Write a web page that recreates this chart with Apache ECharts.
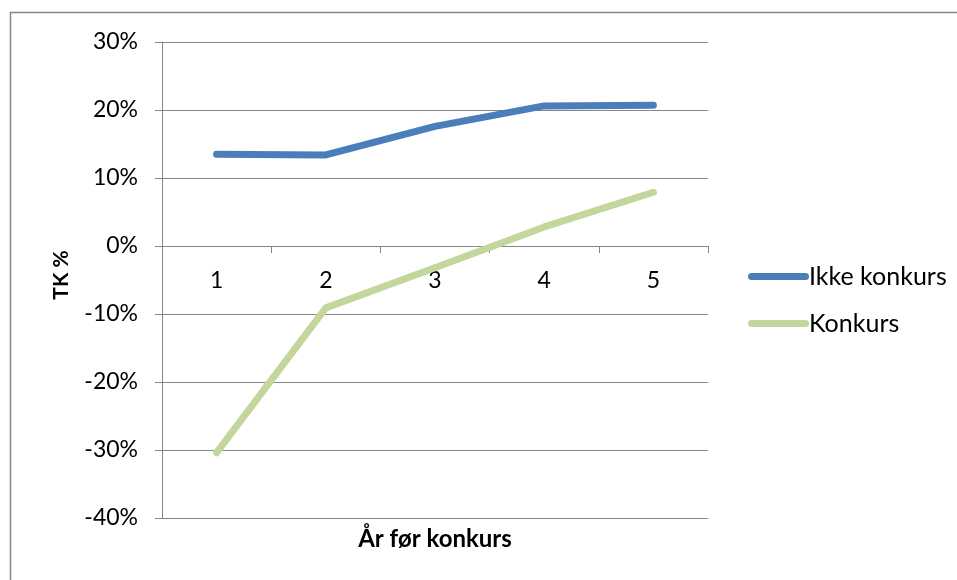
<!DOCTYPE html>
<html>
<head>
<meta charset="utf-8">
<script src="https://cdn.jsdelivr.net/npm/echarts@6/dist/echarts.min.js"></script>
<style>
  html, body { margin: 0; padding: 0; background: #ffffff; }
  #chart { width: 957px; height: 580px; }
</style>
</head>
<body>
<div id="chart"></div>
<script>
// Years before bankruptcy
const categories = ['1', '2', '3', '4', '5'];
// Equity ratio (TK %) per year, in percent
const ikkeKonkurs = [13.5, 13.4, 17.6, 20.6, 20.7];
const konkurs = [-30.4, -9.1, -3.2, 2.8, 7.9];
// Value axis range and step
const yMin = -40, yMax = 30, yStep = 10;

const FONT = 'Lato';
const GRAY = '#868686';

// Plot area
const W = 957, H = 580;
const GRID = { left: 162, right: 249, top: 42, bottom: 62 };
const plotH = H - GRID.top - GRID.bottom;
// Lift the category axis from the bottom edge up to the 0 % line
const zeroOffset = -plotH * (0 - yMin) / (yMax - yMin);

const chart = echarts.init(document.getElementById('chart'));

chart.setOption({
  backgroundColor: '#ffffff',
  animation: false,
  textStyle: { fontFamily: FONT, color: '#000' },
  grid: Object.assign({ containLabel: false }, GRID),
  legend: {
    orient: 'vertical',
    left: 743,
    top: 259,
    itemWidth: 61,
    itemHeight: 7,
    itemGap: 22,
    icon: 'path://M3.5,0 H57.5 A3.5,3.5 0 0 1 57.5,7 H3.5 A3.5,3.5 0 0 1 3.5,0 Z',
    textStyle: { fontFamily: FONT, fontSize: 25, color: '#000', padding: [0, 0, 0, -5] },
    data: ['Ikke konkurs', 'Konkurs']
  },
  xAxis: {
    type: 'category',
    data: categories,
    boundaryGap: true,
    position: 'bottom',
    offset: zeroOffset,
    axisLine: { onZero: false, lineStyle: { color: GRAY, width: 1 } },
    axisTick: { show: true, inside: false, length: 7, alignWithLabel: false, lineStyle: { color: GRAY } },
    axisLabel: { margin: 23, fontSize: 23, color: '#000', fontFamily: FONT },
    splitLine: { show: false }
  },
  yAxis: {
    type: 'value',
    min: yMin,
    max: yMax,
    interval: yStep,
    axisLine: { show: true, lineStyle: { color: GRAY, width: 1 } },
    axisTick: { show: true, inside: false, length: 7, lineStyle: { color: GRAY } },
    axisLabel: { margin: 24, fontSize: 23, color: '#000', fontFamily: FONT,
      formatter: v => v + '%' },
    splitLine: { show: true, lineStyle: { color: GRAY, width: 1 } }
  },
  series: [
    {
      name: 'Ikke konkurs',
      type: 'line',
      data: ikkeKonkurs,
      symbol: 'none',
      color: '#4A7EBB',
      lineStyle: { width: 7, cap: 'round', join: 'round', color: '#4A7EBB' }
    },
    {
      name: 'Konkurs',
      type: 'line',
      data: konkurs,
      symbol: 'none',
      color: '#C3D69B',
      lineStyle: { width: 7, cap: 'round', join: 'round', color: '#C3D69B' }
    }
  ],
  graphic: [
    {
      type: 'rect',
      shape: { x: 10.5, y: 12.5, width: 1200, height: 1200 },
      style: { fill: 'none', stroke: GRAY, lineWidth: 1.5 },
      silent: true,
      z: -1
    },
    {
      type: 'text',
      x: 61,
      y: 275,
      rotation: Math.PI / 2,
      style: {
        text: 'TK %',
        fontFamily: FONT,
        fontSize: 21,
        fontWeight: 'bold',
        fill: '#000',
        align: 'center',
        verticalAlign: 'middle'
      }
    },
    {
      type: 'text',
      x: 435,
      y: 539,
      style: {
        text: 'År før konkurs',
        fontFamily: FONT,
        fontSize: 24,
        fontWeight: 'bold',
        fill: '#000',
        align: 'center',
        verticalAlign: 'middle'
      }
    }
  ]
});
</script>
</body>
</html>
